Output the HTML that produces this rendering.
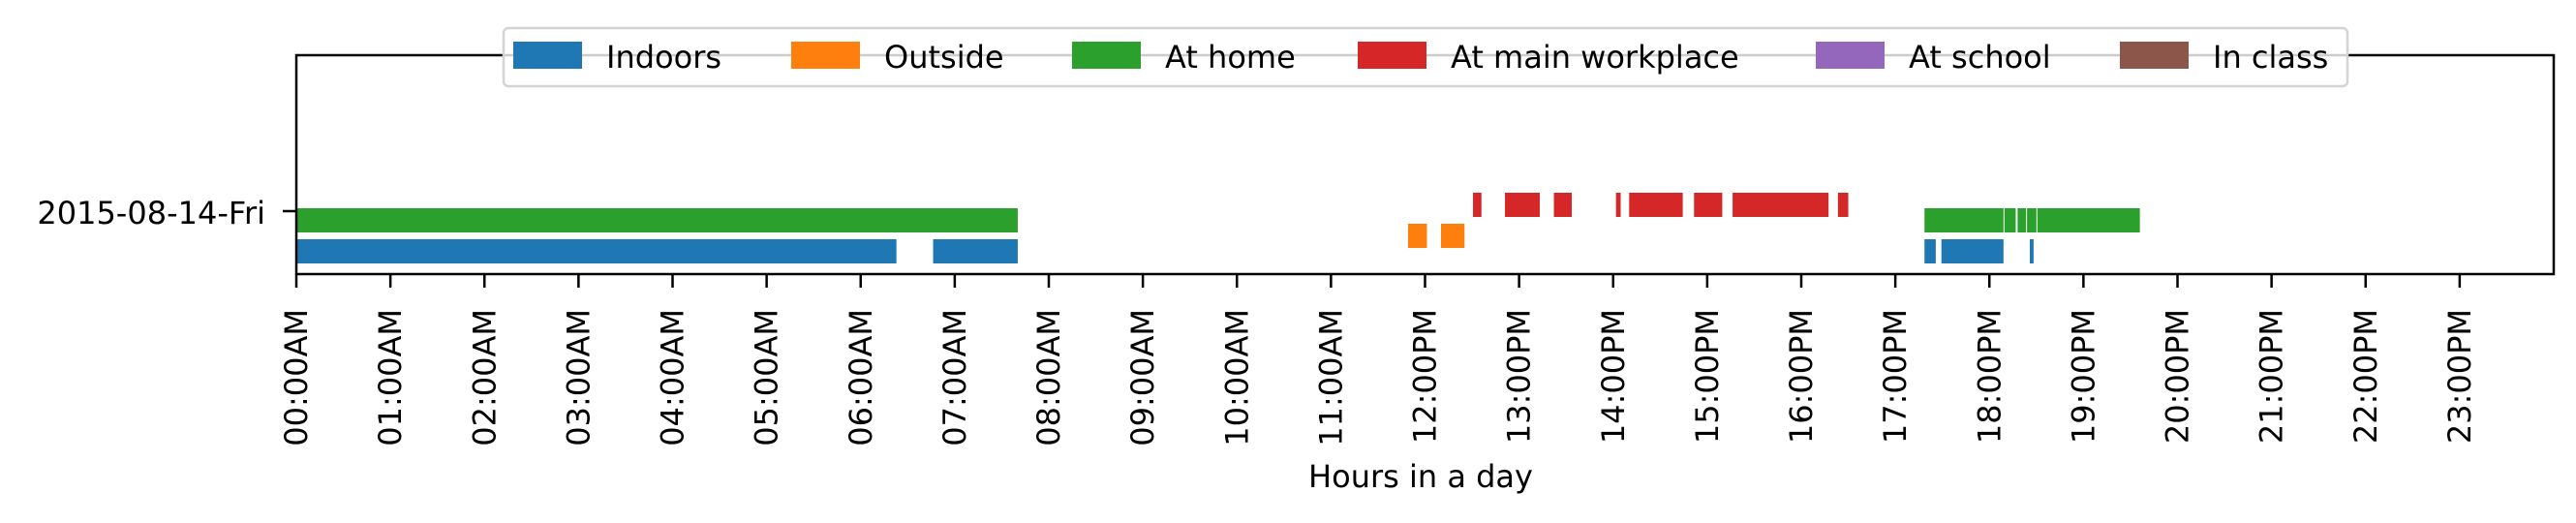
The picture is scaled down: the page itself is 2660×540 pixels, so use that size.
<!DOCTYPE html>
<html><head><meta charset="utf-8"><style>
html,body{margin:0;padding:0;background:#fff;}
svg{display:block;font-family:"DejaVu Sans","Liberation Sans",sans-serif;}
</style></head><body>
<svg id="chart" width="2660" height="540" viewBox="0 0 2660 540">
<g id="bars"></g>
<g id="axes"></g>
<g id="legend"></g>
</svg>
<script>
const categories = ["Indoors","Outside","At home","At main workplace","At school","In class"];
const colors = ["#1f77b4","#ff7f0e","#2ca02c","#d62728","#9467bd","#8c564b"];
const dayLabel = "2015-08-14-Fri";
const tickLabels = ["00:00AM","01:00AM","02:00AM","03:00AM","04:00AM","05:00AM","06:00AM","07:00AM","08:00AM","09:00AM","10:00AM","11:00AM","12:00PM","13:00PM","14:00PM","15:00PM","16:00PM","17:00PM","18:00PM","19:00PM","20:00PM","21:00PM","22:00PM","23:00PM"];
const indoorsSegs = [[0,6.38],[6.77,7.67],[17.31,17.43],[17.49,18.15],[18.43,18.47]];
const outsideSegs = [[11.82,12.02],[12.17,12.42]];
const homeSegs = [[0,7.67],[17.31,18.15],[18.16,18.28],[18.30,18.39],[18.40,18.50],[18.51,19.60]];
const workSegs = [[12.51,12.60],[12.85,13.22],[13.37,13.56],[14.03,14.08],[14.17,14.74],[14.86,15.16],[15.27,16.29],[16.39,16.50]];
const schoolSegs = [];
const classSegs = [];

const NS="http://www.w3.org/2000/svg";
const L=306,R=2637,T=57,B=283;
const x = h => L + h*(R-L)/24;
const rowTop = [247,231,215,199,183,167];
const rowH = 25;
function mk(tag,attrs,parent){const e=document.createElementNS(NS,tag);for(const k in attrs)e.setAttribute(k,attrs[k]);parent.appendChild(e);return e;}
const bars=document.getElementById('bars'), axes=document.getElementById('axes'), leg=document.getElementById('legend');
const all=[indoorsSegs,outsideSegs,homeSegs,workSegs,schoolSegs,classSegs];
const names=["bar-indoors","bar-outside","bar-at-home","bar-at-workplace","bar-at-school","bar-in-class"];
all.forEach((segs,i)=>{segs.forEach(s=>{
  const r=mk('rect',{x:x(s[0]),y:rowTop[i],width:Math.max(1,x(s[1])-x(s[0])),height:rowH,fill:colors[i]},bars);
  
  
});});
let f=mk('rect',{x:L,y:T,width:R-L,height:B-T,fill:'none',stroke:'#000','stroke-width':2.5},axes);


let yt=mk('line',{x1:L-14,x2:L,y1:218,y2:218,stroke:'#000','stroke-width':2.5},axes);


let yl=mk('text',{x:274,y:231,'text-anchor':'end','font-size':32},axes);yl.textContent=dayLabel;


tickLabels.forEach((t,i)=>{
  const xx=x(i);
  const tk=mk('line',{x1:xx,x2:xx,y1:B,y2:B+14,stroke:'#000','stroke-width':2.5},axes);
  
  
  const tx=mk('text',{x:0,y:0,'text-anchor':'end','font-size':32,transform:`translate(${xx+11},${319}) rotate(-90)`},axes);
  tx.textContent=t;
  
  
});
let xl=mk('text',{x:1467,y:503,'text-anchor':'middle','font-size':32},axes);xl.textContent="Hours in a day";


let lb=mk('rect',{x:520,y:29,width:1904,height:60,rx:5,fill:'#fff','fill-opacity':0.8,stroke:'#d4d4d4','stroke-width':2.5},leg);


const px=[530,817,1107,1402,1875,2189];
categories.forEach((c,i)=>{
  const g=mk('g',{},leg);
  
  
  mk('rect',{x:px[i],y:43,width:71,height:28,fill:colors[i]},g);
  const t=mk('text',{x:px[i]+96,y:70,'font-size':32},g);t.textContent=c;
});
</script>
</body></html>
